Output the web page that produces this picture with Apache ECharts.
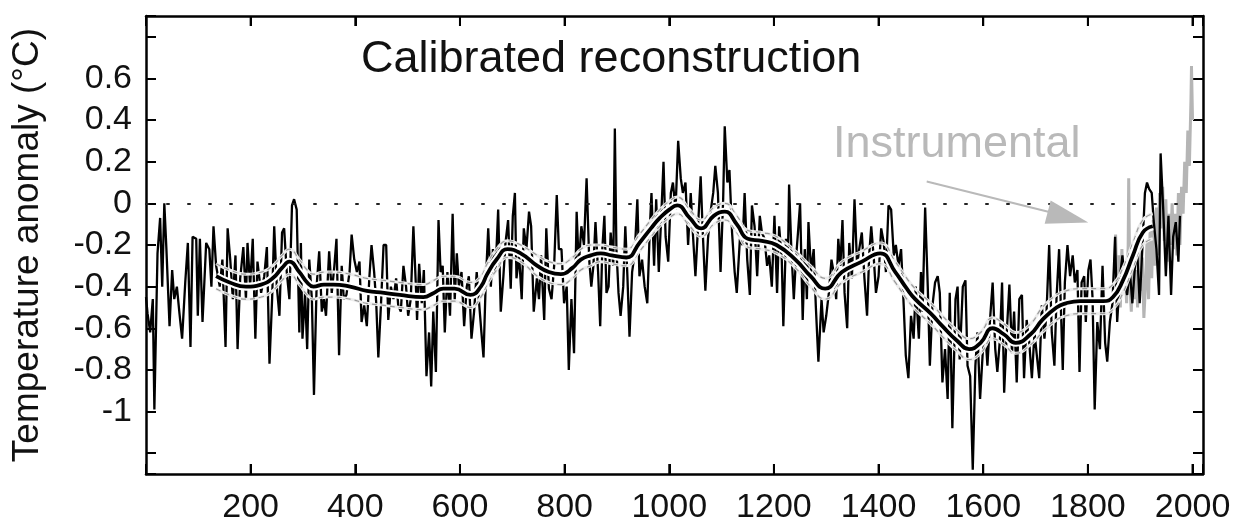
<!DOCTYPE html>
<html>
<head>
<meta charset="utf-8">
<script src="https://cdn.jsdelivr.net/npm/echarts@6/dist/echarts.min.js"></script>
<style>html,body{margin:0;padding:0;background:#fff}#c{width:1244px;height:525px}</style>
</head>
<body>
<div id="c"></div>
<script>
const xTicks = [200,400,600,800,1000,1200,1400,1600,1800,2000];
const yTicks = [-1,-0.8,-0.6,-0.4,-0.2,0,0.2,0.4,0.6];

const recon = [
[0,-0.45],[3,-0.53],[8,-0.62],[13,-0.46],[16,-0.99],[22,-0.24],[27,-0.07],[31,-0.40],[35,0.0],[39,-0.22],[45,-0.59],[50,-0.32],[54,-0.46],[59,-0.40],[64,-0.53],[69,-0.65],[75,-0.38],[80,-0.19],[85,-0.69],[89,-0.16],[96,-0.17],[99,-0.54],[103,-0.17],[108,-0.57],[115,-0.19],[121,-0.22],[125,-0.40],[129,-0.11],[134,-0.30],[141,-0.40],[146,-0.27],[152,-0.69],[156,-0.12],[161,-0.27],[166,-0.46],[171,-0.25],[175,-0.70],[180,-0.36],[186,-0.21],[191,-0.46],[194,-0.19],[199,-0.40],[204,-0.17],[209,-0.65],[213,-0.28],[220,-0.43],[226,-0.35],[231,-0.21],[236,-0.77],[241,-0.46],[245,-0.11],[250,-0.40],[255,-0.54],[260,-0.14],[264,-0.12],[269,-0.33],[274,-0.46],[279,-0.01],[283,0.02],[288,-0.03],[293,-0.62],[296,-0.19],
[299,-0.65],[304,-0.43],[308,-0.70],[312,-0.27],[317,-0.46],[321,-0.92],[326,-0.40],[331,-0.23],[336,-0.52],[340,-0.46],[344,-0.54],[350,-0.23],[355,-0.43],[360,-0.30],[364,-0.17],[369,-0.73],[374,-0.30],[378,-0.46],[383,-0.44],[389,-0.33],[393,-0.15],[398,-0.27],[403,-0.33],[408,-0.28],[412,-0.57],[417,-0.49],[422,-0.59],[427,-0.35],[431,-0.20],[436,-0.33],[440,-0.48],[444,-0.74],[449,-0.49],[454,-0.20],[459,-0.20],[463,-0.56],[468,-0.40],[473,-0.46],[478,-0.36],[482,-0.49],[487,-0.52],[492,-0.30],[497,-0.40],[501,-0.54],[506,-0.46],[511,-0.11],[516,-0.41],[518,-0.56],[522,-0.29],[527,-0.48],[531,-0.32],[536,-0.83],[541,-0.62],[545,-0.88],[549,-0.52],[554,-0.81],[559,-0.08],[563,-0.33],[567,-0.30],[571,-0.62],[576,-0.33],[581,-0.54],[586,-0.05],[590,-0.46],
[594,-0.24],[598,-0.40],[603,-0.33],[608,-0.59],[613,-0.40],[617,-0.35],[622,-0.65],[627,-0.52],[632,-0.33],[636,-0.46],[641,-0.62],[645,-0.74],[649,-0.40],[654,-0.12],[659,-0.40],[663,-0.22],[668,-0.33],[673,-0.03],[678,-0.52],[683,-0.35],[687,-0.19],[692,-0.08],[697,-0.41],[701,-0.06],[705,0.05],[708,-0.36],[713,-0.25],[718,-0.46],[722,-0.12],[727,-0.22],[732,-0.04],[736,-0.11],[741,-0.52],[747,-0.36],[751,-0.46],[755,-0.25],[761,-0.56],[765,-0.12],[770,-0.41],[775,-0.46],[780,-0.30],[785,0.04],[789,-0.22],[794,-0.22],[799,-0.48],[804,-0.40],[808,-0.80],[813,-0.46],[818,-0.72],[823,-0.04],[827,-0.30],[832,-0.11],[837,-0.20],[842,0.12],[847,-0.27],[851,-0.40],[855,-0.30],[859,-0.09],[864,-0.33],[868,-0.59],[872,-0.22],[876,-0.06],[880,-0.43],
[884,-0.40],[888,-0.14],[893,-0.30],[896,0.36],[899,-0.22],[903,-0.43],[907,-0.54],[912,-0.40],[916,-0.11],[920,-0.35],[924,-0.64],[929,-0.33],[934,-0.24],[939,0.02],[943,-0.35],[948,-0.27],[953,-0.40],[958,-0.48],[963,-0.11],[966,0.05],[971,-0.30],[975,0.02],[980,-0.33],[985,-0.04],[989,0.20],[993,-0.16],[998,-0.28],[1003,0.05],[1007,0.10],[1012,-0.03],[1017,0.30],[1022,0.12],[1026,0.05],[1031,0.10],[1036,-0.20],[1041,0.05],[1045,-0.14],[1050,-0.35],[1055,-0.11],[1060,0.13],[1064,-0.14],[1069,-0.42],[1074,-0.17],[1079,-0.04],[1084,0.05],[1088,0.18],[1093,0.05],[1098,-0.33],[1103,0.02],[1106,0.37],[1111,0.10],[1115,0.16],[1120,-0.14],[1125,-0.33],[1129,-0.43],[1135,-0.17],[1140,-0.20],[1144,0.05],[1149,-0.27],[1154,-0.44],[1158,-0.01],[1163,-0.11],[1168,-0.35],[1173,-0.06],[1177,-0.14],
[1182,-0.17],[1187,-0.30],[1191,-0.25],[1196,-0.40],[1201,-0.06],[1206,-0.43],[1210,-0.11],[1215,-0.27],[1218,-0.59],[1223,-0.17],[1227,-0.22],[1229,0.09],[1233,-0.20],[1238,-0.46],[1242,-0.27],[1246,-0.14],[1250,0.0],[1255,-0.56],[1259,-0.22],[1263,-0.46],[1266,-0.09],[1271,-0.33],[1276,-0.22],[1280,-0.49],[1285,-0.76],[1291,-0.46],[1295,-0.62],[1300,-0.54],[1305,-0.43],[1310,-0.27],[1314,-0.33],[1319,-0.46],[1323,-0.17],[1327,-0.30],[1331,-0.08],[1335,-0.43],[1340,-0.60],[1344,-0.19],[1349,-0.36],[1354,0.02],[1359,-0.30],[1363,-0.22],[1368,-0.14],[1373,-0.36],[1378,-0.54],[1382,-0.25],[1386,-0.11],[1391,-0.27],[1395,-0.43],[1400,-0.35],[1405,-0.12],[1410,-0.19],[1414,-0.33],[1419,-0.01],[1424,-0.03],[1429,-0.25],[1433,-0.20],[1438,-0.30],[1443,-0.22],[1448,-0.49],[1452,-0.73],[1457,-0.84],[1462,-0.54],[1467,-0.65],
[1471,-0.40],[1477,-0.65],[1481,-0.33],[1484,-0.52],[1489,-0.02],[1494,-0.40],[1498,-0.78],[1503,-0.49],[1508,-0.38],[1513,-0.35],[1517,-0.43],[1522,-0.86],[1527,-0.70],[1532,-0.94],[1536,-0.43],[1541,-1.08],[1547,-0.46],[1551,-0.40],[1555,-0.75],[1561,-0.40],[1566,-0.37],[1570,-0.78],[1575,-0.83],[1580,-1.28],[1585,-0.78],[1589,-0.62],[1594,-0.94],[1599,-0.72],[1604,-0.62],[1608,-0.78],[1613,-0.56],[1618,-0.38],[1623,-0.70],[1627,-0.81],[1632,-0.65],[1636,-0.38],[1640,-0.91],[1645,-0.62],[1650,-0.39],[1655,-0.72],[1659,-0.52],[1664,-0.86],[1669,-0.46],[1674,-0.44],[1678,-0.84],[1683,-0.56],[1688,-0.67],[1693,-0.84],[1698,-0.62],[1702,-0.72],[1707,-0.84],[1712,-0.49],[1717,-0.65],[1721,-0.52],[1726,-0.20],[1731,-0.62],[1736,-0.78],[1740,-0.46],[1745,-0.22],[1752,-0.80],[1756,-0.38],
[1761,-0.20],[1766,-0.35],[1771,-0.25],[1775,-0.38],[1780,-0.32],[1784,-0.81],[1788,-0.38],[1793,-0.35],[1796,-0.57],[1801,-0.32],[1805,-0.27],[1809,-0.46],[1813,-0.99],[1818,-0.57],[1823,-0.70],[1828,-0.30],[1833,-0.67],[1837,-0.76],[1842,-0.57],[1847,-0.48],[1852,-0.16],[1856,-0.57],[1861,-0.36],[1866,-0.25],[1871,-0.38],[1875,-0.44],[1880,-0.32],[1885,-0.48],[1890,-0.30],[1894,-0.22],[1899,-0.48],[1904,-0.22],[1909,0.05],[1913,0.10],[1917,0.07],[1922,0.05],[1926,-0.09],[1931,-0.22],[1936,-0.44],[1939,0.24],[1944,-0.03],[1949,-0.35],[1954,-0.06],[1959,-0.44],[1963,-0.16],[1968,-0.09],[1973,-0.28],[1976,-0.06]
];

const smooth = [
[134,-0.35],[160,-0.38],[191,-0.40],[220,-0.39],[242,-0.36],[260,-0.31],[274,-0.28],[293,-0.33],[308,-0.38],[320,-0.40],[340,-0.39],[358,-0.39],[390,-0.40],[422,-0.42],[455,-0.43],[485,-0.44],[530,-0.45],[550,-0.43],[568,-0.41],[590,-0.41],[620,-0.44],[640,-0.40],[652,-0.34],[670,-0.27],[691,-0.22],[716,-0.24],[748,-0.30],[770,-0.33],[793,-0.34],[815,-0.31],[831,-0.27],[850,-0.25],[869,-0.24],[890,-0.25],[918,-0.26],[943,-0.19],[965,-0.12],[982,-0.07],[1000,-0.03],[1015,-0.01],[1039,-0.07],[1061,-0.12],[1085,-0.06],[1106,-0.04],[1129,-0.10],[1150,-0.17],[1177,-0.18],[1205,-0.20],[1241,-0.27],[1270,-0.35],[1298,-0.41],[1330,-0.33],[1368,-0.28],[1403,-0.24],[1432,-0.33],[1454,-0.41],[1470,-0.46],[1500,-0.53],[1522,-0.59],[1550,-0.66],[1573,-0.70],[1595,-0.67],[1618,-0.60],[1640,-0.63],[1662,-0.67],[1690,-0.63],[1713,-0.56],[1740,-0.50],[1758,-0.48],[1785,-0.47],[1829,-0.47],[1848,-0.45],[1867,-0.37],[1886,-0.25],[1905,-0.14],[1924,-0.11]
];

const smoothUpper = [
[134,-0.29],[160,-0.32],[191,-0.34],[220,-0.33],[242,-0.30],[260,-0.25],[274,-0.22],[293,-0.27],[308,-0.32],[320,-0.34],[340,-0.33],[358,-0.33],[390,-0.34],[422,-0.36],[455,-0.37],[485,-0.38],[530,-0.39],[550,-0.37],[568,-0.35],[590,-0.35],[620,-0.38],[640,-0.35],[652,-0.29],[670,-0.22],[691,-0.18],[716,-0.20],[748,-0.25],[770,-0.28],[793,-0.29],[815,-0.26],[831,-0.22],[850,-0.20],[869,-0.20],[890,-0.21],[918,-0.22],[943,-0.15],[965,-0.08],[982,-0.03],[1000,0.01],[1015,0.03],[1039,-0.03],[1061,-0.08],[1085,-0.02],[1106,0.0],[1129,-0.06],[1150,-0.13],[1177,-0.14],[1205,-0.16],[1241,-0.23],[1270,-0.30],[1298,-0.36],[1330,-0.28],[1368,-0.23],[1403,-0.19],[1432,-0.28],[1454,-0.36],[1470,-0.41],[1500,-0.48],[1522,-0.54],[1550,-0.61],[1573,-0.65],[1595,-0.62],[1618,-0.55],[1640,-0.58],[1662,-0.62],[1690,-0.58],[1713,-0.50],[1740,-0.44],[1758,-0.42],[1785,-0.41],[1829,-0.41],[1848,-0.39],[1867,-0.31],[1886,-0.19],[1905,-0.08],[1924,-0.05]
];

const smoothLower = [
[134,-0.41],[160,-0.44],[191,-0.46],[220,-0.45],[242,-0.42],[260,-0.37],[274,-0.34],[293,-0.39],[308,-0.44],[320,-0.46],[340,-0.45],[358,-0.45],[390,-0.46],[422,-0.48],[455,-0.49],[485,-0.50],[530,-0.51],[550,-0.49],[568,-0.47],[590,-0.47],[620,-0.50],[640,-0.45],[652,-0.39],[670,-0.32],[691,-0.26],[716,-0.28],[748,-0.35],[770,-0.38],[793,-0.39],[815,-0.36],[831,-0.32],[850,-0.30],[869,-0.28],[890,-0.29],[918,-0.30],[943,-0.23],[965,-0.16],[982,-0.11],[1000,-0.07],[1015,-0.05],[1039,-0.11],[1061,-0.16],[1085,-0.10],[1106,-0.08],[1129,-0.14],[1150,-0.21],[1177,-0.22],[1205,-0.24],[1241,-0.31],[1270,-0.40],[1298,-0.46],[1330,-0.38],[1368,-0.33],[1403,-0.29],[1432,-0.38],[1454,-0.46],[1470,-0.51],[1500,-0.58],[1522,-0.64],[1550,-0.71],[1573,-0.75],[1595,-0.72],[1618,-0.65],[1640,-0.68],[1662,-0.72],[1690,-0.68],[1713,-0.62],[1740,-0.56],[1758,-0.54],[1785,-0.53],[1829,-0.53],[1848,-0.51],[1867,-0.43],[1886,-0.31],[1905,-0.20],[1924,-0.17]
];

const instrumental = [
[1850,-0.38],[1853,-0.15],[1856,-0.48],[1859,-0.25],[1862,-0.50],[1865,-0.22],[1868,-0.42],[1871,-0.28],[1874,-0.48],[1877,-0.20],[1878,0.12],[1880,-0.38],[1883,-0.52],[1886,-0.28],[1889,-0.46],[1892,-0.32],[1895,-0.50],[1898,-0.20],[1901,-0.42],[1904,-0.26],[1907,-0.55],[1910,-0.40],[1913,-0.18],[1916,-0.46],[1919,-0.12],[1922,-0.36],[1925,-0.08],[1928,-0.30],[1931,-0.02],[1934,-0.25],[1937,0.05],[1940,-0.12],[1943,0.08],[1946,-0.18],[1949,0.02],[1952,-0.28],[1955,-0.05],[1958,-0.20],[1961,0.0],[1964,-0.22],[1967,-0.05],[1970,-0.25],[1973,0.05],[1976,-0.20],[1979,0.08],[1982,-0.05],[1985,0.20],[1988,0.05],[1991,0.35],[1994,0.18],[1997,0.50],[1998,0.66],[2000,0.40]
];

const arrowFrom = [1492, 0.105];
const arrowTo = [1780, -0.075];
const arrowHead = [1762, -0.067];

const X_MIN = 0, X_MAX = 2020, Y_MIN = -1.3, Y_MAX = 0.9;
const FONT = 'Liberation Sans, Arial, sans-serif';
const chart = echarts.init(document.getElementById('c'), null, {renderer: 'canvas'});

function line() { return {show: true, onZero: false, lineStyle: {color: '#000', width: 2.5}}; }
function tick() { return {show: true, inside: true, length: 10, lineStyle: {color: '#000', width: 2}}; }
const plain = v => String(v);

// inward tick marks for the year axis (bottom and top frame edges), drawn as
// thin rectangle symbols placed at the tick values through the axes
const TL = 10;
const xTickBottom = xTicks.map(v => [v, Y_MIN]);
const xTickTop = xTicks.map(v => [v, Y_MAX]);

chart.setOption({
  animation: false,
  backgroundColor: '#fff',
  title: [
    {text: 'Calibrated reconstruction', left: 356, top: 32,
     textStyle: {fontSize: 45, fontWeight: 'normal', color: '#111', fontFamily: FONT}},
    {text: 'Instrumental', left: 828, top: 117,
     textStyle: {fontSize: 45, fontWeight: 'normal', color: '#b9b9b9', fontFamily: FONT}}
  ],
  grid: {left: 146, right: 41, top: 16, bottom: 50, containLabel: false},
  xAxis: [
    {type: 'value', min: X_MIN, max: X_MAX, splitNumber: 10, position: 'bottom',
     axisLine: line(), axisTick: tick(),
     axisLabel: {customValues: xTicks, formatter: plain, fontSize: 34, color: '#111', margin: 17, fontFamily: FONT},
     splitLine: {show: false}},
    {type: 'value', min: X_MIN, max: X_MAX, splitNumber: 10, position: 'top',
     axisLine: line(), axisTick: tick(), axisLabel: {show: false}, splitLine: {show: false}}
  ],
  yAxis: [
    {type: 'value', min: Y_MIN, max: Y_MAX, splitNumber: 11, position: 'left',
     name: 'Temperature anomaly (°C)', nameLocation: 'middle', nameGap: 100, nameRotate: 90,
     nameTextStyle: {fontSize: 37, color: '#111', fontFamily: FONT},
     axisLine: line(), axisTick: tick(),
     axisLabel: {customValues: yTicks, formatter: plain, fontSize: 34, color: '#111', margin: 14, fontFamily: FONT},
     splitLine: {show: false}},
    {type: 'value', min: Y_MIN, max: Y_MAX, splitNumber: 11, position: 'right',
     axisLine: line(), axisTick: tick(), axisLabel: {show: false}, splitLine: {show: false}}
  ],
  series: [
    {type: 'line', name: 'Instrumental', data: instrumental, showSymbol: false, z: 2,
     lineStyle: {color: '#b5b5b5', width: 3},
     markLine: {silent: true, symbol: ['none', 'none'], animation: false, label: {show: false},
       lineStyle: {color: '#b9b9b9', width: 2, type: 'solid'},
       data: [[{coord: arrowFrom}, {coord: arrowTo}]]},
     markPoint: {silent: true, animation: false, label: {show: false},
       data: [{coord: arrowHead, symbol: 'triangle', symbolSize: [24, 42], symbolRotate: -104.5,
               itemStyle: {color: '#b9b9b9'}}]}
    },
    {type: 'line', name: 'Reconstruction', data: recon, showSymbol: false, z: 3,
     lineStyle: {color: '#000', width: 2.3},
     markLine: {silent: true, symbol: ['none', 'none'], animation: false, label: {show: false},
       lineStyle: {color: '#222', width: 2, type: [2, 19], cap: 'round'},
       data: [{yAxis: 0}]}
    },
    {type: 'line', name: 'Upper', data: smoothUpper, showSymbol: false, smooth: true, z: 4,
     lineStyle: {color: '#ececec', width: 3}},
    {type: 'line', name: 'Lower', data: smoothLower, showSymbol: false, smooth: true, z: 4,
     lineStyle: {color: '#ececec', width: 3}},
    {type: 'line', name: 'UpperDash', data: smoothUpper, showSymbol: false, smooth: true, z: 5,
     lineStyle: {color: '#999', width: 1.2, type: [5, 4]}},
    {type: 'line', name: 'LowerDash', data: smoothLower, showSymbol: false, smooth: true, z: 5,
     lineStyle: {color: '#999', width: 1.2, type: [5, 4]}},
    {type: 'line', name: 'SmoothHalo', data: smooth, showSymbol: false, smooth: true, z: 6,
     lineStyle: {color: '#ffffff', width: 8}},
    {type: 'line', name: 'Smooth', data: smooth, showSymbol: false, smooth: true, z: 7,
     lineStyle: {color: '#000', width: 3.8}},
    {type: 'scatter', name: 'xTickBottom', data: xTickBottom, clip: false, silent: true, z: 9,
     symbol: 'rect', symbolSize: [2, TL], symbolOffset: [0, -TL / 2],
     itemStyle: {color: '#000', opacity: 1}},
    {type: 'scatter', name: 'xTickTop', data: xTickTop, clip: false, silent: true, z: 9,
     symbol: 'rect', symbolSize: [2, TL], symbolOffset: [0, TL / 2],
     itemStyle: {color: '#000', opacity: 1}}
  ]
});
</script>
</body>
</html>
